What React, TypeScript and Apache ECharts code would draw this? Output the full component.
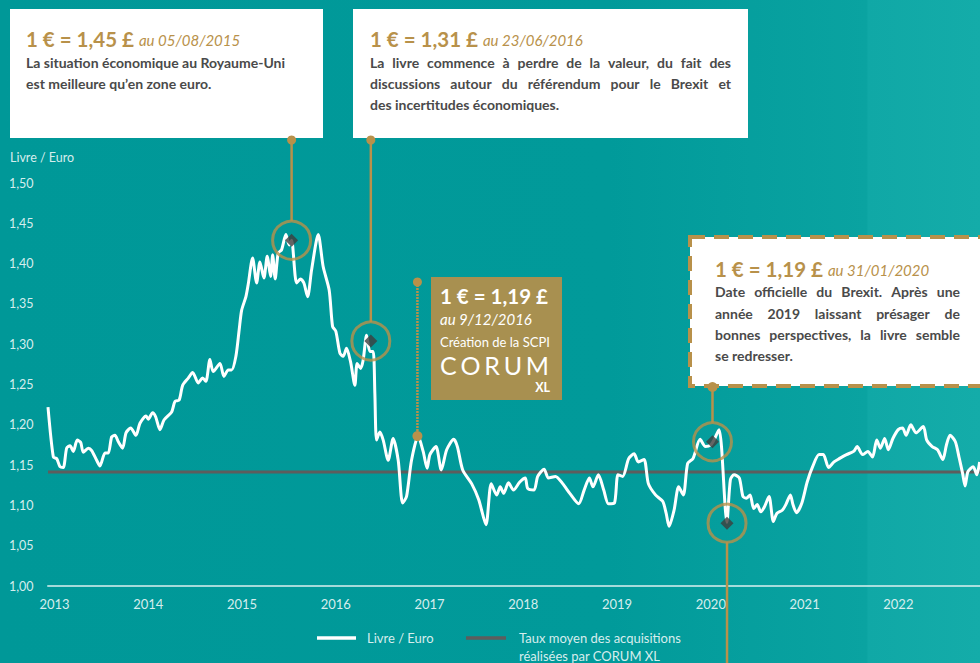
import React, { useEffect, useRef } from "react";
import * as echarts from "echarts";

// ---------- DATA ----------
const rateDates = [
  2013.0, 2013.057, 2013.093, 2013.128, 2013.163, 2013.199, 2013.235, 2013.27, 2013.312, 2013.349,
  2013.376, 2013.43, 2013.466, 2013.519, 2013.554, 2013.608, 2013.643, 2013.679, 2013.714, 2013.75,
  2013.796, 2013.832, 2013.882, 2013.938, 2013.981, 2014.045, 2014.069, 2014.116, 2014.148, 2014.194,
  2014.237, 2014.319, 2014.354, 2014.4, 2014.436, 2014.496, 2014.543, 2014.602, 2014.649, 2014.684,
  2014.727, 2014.762, 2014.834, 2014.876, 2014.922, 2014.958, 2015.004, 2015.039, 2015.065, 2015.111,
  2015.135, 2015.182, 2015.225, 2015.26, 2015.303, 2015.338, 2015.374, 2015.396, 2015.423, 2015.455,
  2015.491, 2015.537, 2015.573, 2015.598, 2015.651, 2015.694, 2015.729, 2015.769, 2015.811, 2015.882,
  2015.935, 2015.999, 2016.035, 2016.07, 2016.113, 2016.148, 2016.184, 2016.227, 2016.273, 2016.297,
  2016.334, 2016.361, 2016.398, 2016.433, 2016.468, 2016.486, 2016.504, 2016.539, 2016.575, 2016.628,
  2016.681, 2016.735, 2016.782, 2016.824, 2016.877, 2016.948, 2017.001, 2017.044, 2017.073, 2017.138,
  2017.194, 2017.252, 2017.327, 2017.366, 2017.423, 2017.518, 2017.594, 2017.671, 2017.727, 2017.785,
  2017.823, 2017.86, 2017.911, 2017.964, 2018.032, 2018.09, 2018.116, 2018.184, 2018.223, 2018.291,
  2018.337, 2018.413, 2018.489, 2018.565, 2018.66, 2018.718, 2018.774, 2018.812, 2018.87, 2018.927,
  2018.977, 2019.041, 2019.079, 2019.129, 2019.193, 2019.251, 2019.296, 2019.357, 2019.403, 2019.479,
  2019.556, 2019.593, 2019.624, 2019.677, 2019.726, 2019.776, 2019.822, 2019.879, 2019.955, 2020.012,
  2020.069, 2020.107, 2020.157, 2020.183, 2020.222, 2020.24, 2020.278, 2020.317, 2020.373, 2020.412,
  2020.45, 2020.488, 2020.526, 2020.564, 2020.602, 2020.64, 2020.69, 2020.736, 2020.773, 2020.831,
  2020.869, 2020.918, 2020.945, 2020.983, 2021.04, 2021.097, 2021.155, 2021.223, 2021.269, 2021.325,
  2021.383, 2021.439, 2021.516, 2021.592, 2021.63, 2021.688, 2021.744, 2021.794, 2021.839, 2021.878,
  2021.923, 2021.962, 2022.011, 2022.068, 2022.114, 2022.152, 2022.202, 2022.258, 2022.335, 2022.372,
  2022.43, 2022.487, 2022.544, 2022.582, 2022.621, 2022.677, 2022.716, 2022.754, 2022.781, 2022.811,
  2022.868, 2022.906, 2022.936,
];

const rateValues = [
  1.222, 1.16, 1.158, 1.148, 1.147, 1.171, 1.174, 1.167, 1.181, 1.178,
  1.166, 1.171, 1.168, 1.156, 1.149, 1.165, 1.165, 1.185, 1.187, 1.179,
  1.171, 1.19, 1.196, 1.187, 1.202, 1.211, 1.207, 1.215, 1.21, 1.194,
  1.206, 1.216, 1.229, 1.231, 1.249, 1.258, 1.265, 1.252, 1.258, 1.254,
  1.281, 1.266, 1.276, 1.26, 1.268, 1.268, 1.285, 1.318, 1.342, 1.359,
  1.374, 1.407, 1.376, 1.402, 1.382, 1.409, 1.384, 1.411, 1.381, 1.413,
  1.417, 1.436, 1.423, 1.429, 1.376, 1.381, 1.376, 1.359, 1.392, 1.436,
  1.396, 1.367, 1.322, 1.316, 1.289, 1.285, 1.295, 1.278, 1.249, 1.276,
  1.27, 1.28, 1.311, 1.291, 1.291, 1.239, 1.181, 1.191, 1.181, 1.156,
  1.183, 1.156, 1.103, 1.111, 1.156, 1.186, 1.167, 1.146, 1.163, 1.173,
  1.144, 1.169, 1.182, 1.173, 1.144, 1.127, 1.107, 1.076, 1.127, 1.113,
  1.123, 1.115, 1.128, 1.119, 1.129, 1.134, 1.121, 1.119, 1.136, 1.145,
  1.134, 1.136, 1.127, 1.115, 1.102, 1.119, 1.134, 1.123, 1.138, 1.119,
  1.102, 1.103, 1.138, 1.136, 1.158, 1.164, 1.154, 1.157, 1.127, 1.113,
  1.105, 1.09, 1.074, 1.094, 1.123, 1.113, 1.152, 1.158, 1.182, 1.173,
  1.175, 1.182, 1.194, 1.173, 1.098, 1.079, 1.132, 1.138, 1.134, 1.111,
  1.109, 1.113, 1.096, 1.101, 1.092, 1.098, 1.111, 1.08, 1.09, 1.094,
  1.101, 1.113, 1.101, 1.091, 1.103, 1.129, 1.148, 1.163, 1.163, 1.147,
  1.154, 1.158, 1.163, 1.167, 1.173, 1.163, 1.167, 1.16, 1.181, 1.171,
  1.183, 1.169, 1.183, 1.194, 1.196, 1.187, 1.2, 1.19, 1.198, 1.181,
  1.173, 1.169, 1.157, 1.175, 1.187, 1.179, 1.16, 1.14, 1.124, 1.142,
  1.148, 1.138, 1.154,
];

const acquisitionMean = 1.1414;
const axisStart = 2013;
const axisEnd = 2022.94;

// highlighted points: 05/08/2015, 23/06/2016, 31/01/2020, drop after
const highlightDates = [2015.598, 2016.443, 2020.087, 2020.242];
const highlightValues = [1.429, 1.304, 1.179, 1.078];
const corumDate = 2016.94;
const corumValue = 1.186;

const legendLabels = ["Livre / Euro", "Taux moyen des acquisitions\nréalisées par CORUM XL"];

const FAMILY = "Lato";
const GOLD = "#B8914A";
const BODY = "#4a4a4a";
const LIGHT = "rgba(235,247,247,0.92)";

let measureCtx: CanvasRenderingContext2D | null = null;
function measure(text: string, font: string) {
  if (!measureCtx) measureCtx = document.createElement("canvas").getContext("2d");
  measureCtx!.font = font;
  return measureCtx!.measureText(text).width;
}

function txt(x: number, y: number, text: string, font: string, fill: string, align = "left") {
  return {
    type: "text",
    x,
    y,
    z: 20,
    style: { text, font, fill, align, textAlign: align, verticalAlign: "middle", textVerticalAlign: "middle" },
  };
}

function lineText(text: string, x0: number, x1: number, y: number, font: string, fill: string, justify: boolean) {
  const words = text.split(" ");
  if (!justify || words.length < 2) return [txt(x0, y, text, font, fill)];
  const widths = words.map((w) => measure(w, font));
  const total = widths.reduce((a, b) => a + b, 0);
  const gap = (x1 - x0 - total) / (words.length - 1);
  let x = x0;
  return words.map((w, i) => {
    const el = txt(x, y, w, font, fill);
    x += widths[i] + gap;
    return el;
  });
}

function title(x: number, y: number, main: string, date: string, color: string) {
  const f1 = `700 20.5px ${FAMILY}`;
  const f2 = `italic 400 15px ${FAMILY}`;
  const w = measure(main, f1);
  return [txt(x, y, main, f1, color), txt(x + w + 5, y + 1, date, f2, color)];
}

export default function App() {
  const ref = useRef<HTMLDivElement>(null);

  useEffect(() => {
    const chart = echarts.init(ref.current!, null, { renderer: "svg" });
    const pts = highlightDates.map((d, i) => [d, highlightValues[i]]);

    chart.setOption({
      animation: false,
      backgroundColor: {
        type: "linear",
        x: 0,
        y: 0,
        x2: 1,
        y2: 0,
        colorStops: [
          { offset: 0, color: "#009898" },
          { offset: 0.62, color: "#019a9a" },
          { offset: 0.884, color: "#0aa3a1" },
          { offset: 0.886, color: "#10a8a6" },
          { offset: 1, color: "#14aca9" },
        ],
      },
      grid: { left: 48, right: 0, top: 183, bottom: 77 },
      xAxis: {
        type: "value",
        min: axisStart,
        max: axisEnd,
        interval: 1,
        axisLine: { show: true, lineStyle: { color: "rgba(220,240,240,0.75)", width: 2 } },
        axisTick: { show: false },
        splitLine: { show: false },
        axisLabel: {
          color: LIGHT,
          fontFamily: FAMILY,
          fontSize: 13,
          margin: 11,
          padding: [0, 0, 0, 13],
          showMaxLabel: false,
          formatter: (v: number) => String(Math.round(v)),
        },
      },
      yAxis: {
        type: "value",
        min: 1,
        max: 1.5,
        interval: 0.05,
        axisLine: { show: false },
        axisTick: { show: false },
        splitLine: { show: false },
        axisLabel: {
          align: "left",
          margin: 39,
          color: LIGHT,
          fontFamily: FAMILY,
          fontSize: 12.5,
          formatter: (v: number) => v.toFixed(2).replace(".", ","),
        },
      },
      series: [
        {
          type: "line",
          name: legendLabels[1],
          data: [
            [axisStart, acquisitionMean],
            [axisEnd, acquisitionMean],
          ],
          symbol: "none",
          lineStyle: { color: "#5d5d5d", width: 3 },
          z: 2,
          silent: true,
        },
        {
          type: "line",
          name: legendLabels[0],
          data: rateDates.map((d, i) => [d, rateValues[i]]),
          symbol: "none",
          smooth: 0.25,
          lineStyle: { color: "#ffffff", width: 3 },
          z: 3,
          silent: true,
        },
        {
          type: "scatter",
          data: pts,
          symbol: "circle",
          symbolSize: 38,
          itemStyle: { color: "rgba(0,0,0,0)", borderColor: GOLD, borderWidth: 3 },
          z: 4,
          silent: true,
        },
        {
          type: "scatter",
          data: pts,
          symbol: "diamond",
          symbolSize: 13,
          itemStyle: { color: "#3d3d3d" },
          z: 5,
          silent: true,
        },
      ],
    });

    const px = (p: number[]) => chart.convertToPixel({ gridIndex: 0 }, p) as number[];
    const h = pts.map(px);
    const c = px([corumDate, corumValue]);
    const R = 19;

    const vline = (x: number, y1: number, y2: number, dash?: number[]) => ({
      type: "line",
      z: 15,
      shape: { x1: x, y1, x2: x, y2 },
      style: { stroke: GOLD, lineWidth: 2.5, lineDash: dash },
    });
    const dot = (x: number, y: number, r = 4.5) => ({
      type: "circle",
      z: 16,
      shape: { cx: x, cy: y, r },
      style: { fill: GOLD },
    });

    const bodyFont = `700 14px ${FAMILY}`;
    const g: any[] = [];

    // y axis name
    g.push(txt(10, 157, "Livre / Euro", `400 12.5px ${FAMILY}`, LIGHT));

    // Box 1
    g.push({ type: "rect", z: 10, shape: { x: 10, y: 9, width: 313, height: 129 }, style: { fill: "#ffffff" } });
    g.push(...title(26, 39, "1 € = 1,45 £", "au 05/08/2015", GOLD));
    g.push(txt(26, 62, "La situation économique au Royaume-Uni", bodyFont, BODY));
    g.push(txt(26, 83, "est meilleure qu’en zone euro.", bodyFont, BODY));
    g.push(vline(h[0][0], 140, h[0][1] - R), dot(h[0][0], 140));

    // Box 2
    g.push({ type: "rect", z: 10, shape: { x: 353, y: 9, width: 395, height: 129 }, style: { fill: "#ffffff" } });
    g.push(...title(370, 39, "1 € = 1,31 £", "au 23/06/2016", GOLD));
    g.push(...lineText("La livre commence à perdre de la valeur, du fait des", 370, 731, 62, bodyFont, BODY, true));
    g.push(...lineText("discussions autour du référendum pour le Brexit et", 370, 731, 83, bodyFont, BODY, true));
    g.push(...lineText("des incertitudes économiques.", 370, 731, 104, bodyFont, BODY, false));
    g.push(vline(h[1][0], 140, h[1][1] - R), dot(h[1][0], 140));

    // CORUM box
    g.push({ type: "rect", z: 10, shape: { x: 431, y: 277, width: 131, height: 123 }, style: { fill: "#A89050" } });
    g.push(txt(440, 296, "1 € = 1,19 £", `700 20.5px ${FAMILY}`, "#ffffff"));
    g.push(txt(440, 319, "au 9/12/2016", `italic 400 15px ${FAMILY}`, "#ffffff"));
    g.push(txt(440, 342, "Création de la SCPI", `400 13px ${FAMILY}`, "#ffffff"));
    {
      const letters = ["C", "O", "R", "U", "M"];
      const lf = `400 25px ${FAMILY}`;
      const ws = letters.map((l) => measure(l, lf));
      const tot = ws.reduce((a, b) => a + b, 0);
      const gap = (109 - tot) / 4;
      let x = 440;
      letters.forEach((l, i) => {
        g.push(txt(x, 365, l, lf, "#ffffff"));
        x += ws[i] + gap;
      });
    }
    g.push(txt(550, 387, "XL", `700 12.5px ${FAMILY}`, "#ffffff", "right"));
    g.push(vline(c[0], 282, c[1], [2, 1]), dot(c[0], 282), dot(c[0], c[1], 5));

    // Box 4
    g.push({
      type: "rect",
      z: 10,
      shape: { x: 690, y: 237, width: 300, height: 149 },
      style: { fill: "#ffffff", stroke: GOLD, lineWidth: 4, lineDash: [15, 9] },
    });
    g.push(...title(715, 269, "1 € = 1,19 £", "au 31/01/2020", GOLD));
    g.push(...lineText("Date officielle du Brexit. Après une", 715, 960, 291, bodyFont, BODY, true));
    g.push(...lineText("année 2019 laissant présager de", 715, 960, 313, bodyFont, BODY, true));
    g.push(...lineText("bonnes perspectives, la livre semble", 715, 960, 334, bodyFont, BODY, true));
    g.push(...lineText("se redresser.", 715, 960, 355, bodyFont, BODY, false));
    g.push(vline(h[2][0], 387, h[2][1] - R), dot(h[2][0], 387, 5));
    g.push(vline(h[3][0], h[3][1] + R, 663));

    // Legend
    const lf = `400 13px ${FAMILY}`;
    g.push({ type: "line", z: 15, shape: { x1: 317, y1: 638, x2: 356, y2: 638 }, style: { stroke: "#ffffff", lineWidth: 3.5 } });
    g.push(txt(367, 638, legendLabels[0], lf, LIGHT));
    g.push({ type: "line", z: 15, shape: { x1: 466, y1: 638, x2: 506, y2: 638 }, style: { stroke: "#5d5d5d", lineWidth: 3.5 } });
    const l2 = legendLabels[1].split("\n");
    g.push(txt(519, 638, l2[0], lf, LIGHT));
    g.push(txt(519, 656, l2[1], lf, LIGHT));

    chart.setOption({ graphic: g });

    return () => chart.dispose();
  }, []);

  return <div ref={ref} style={{ position: "fixed", left: 0, top: 0, width: 980, height: 663 }} />;
}
